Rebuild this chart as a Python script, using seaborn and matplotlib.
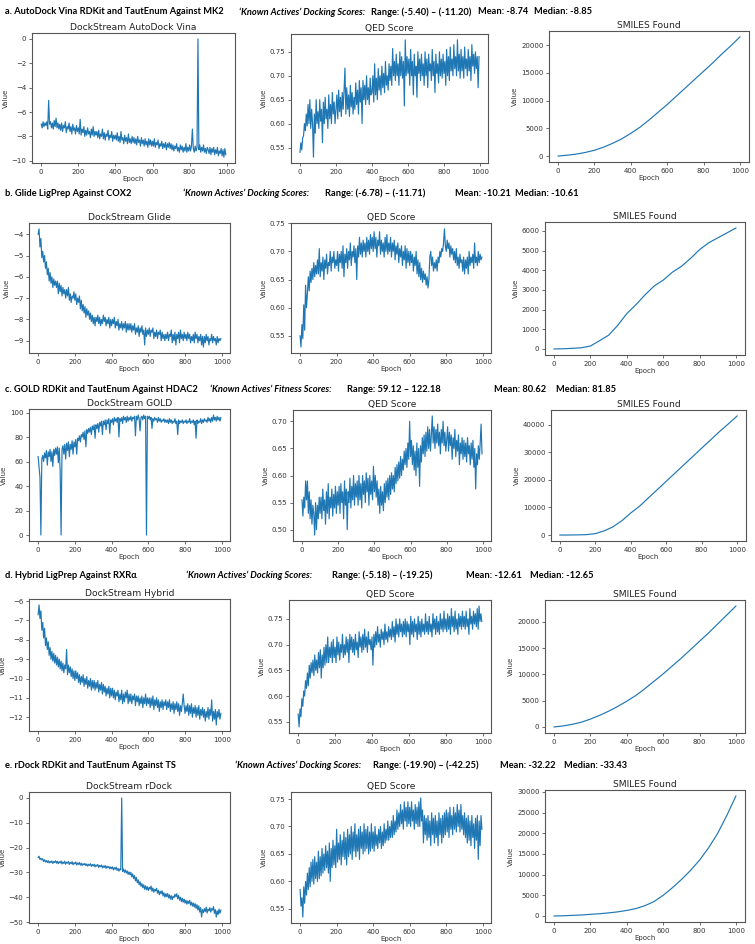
import numpy as np
import seaborn as sns
import matplotlib.pyplot as plt

# ---- header text for each row ----
row_titles = ["a. AutoDock Vina RDKit and TautEnum Against MK2",
              "b. Glide LigPrep Against COX2",
              "c. GOLD RDKit and TautEnum Against HDAC2",
              "d. Hybrid LigPrep Against RXRα",
              "e. rDock RDKit and TautEnum Against TS"]
score_kinds = ["Docking", "Docking", "Fitness", "Docking", "Docking"]
ranges = ["(-5.40) – (-11.20)", "(-6.78) – (-11.71)", "59.12 – 122.18",
          "(-5.18) – (-19.25)", "(-19.90) – (-42.25)"]
means = ["-8.74", "-10.21", "80.62", "-12.61", "-32.22"]
medians = ["-8.85", "-10.61", "81.85", "-12.65", "-33.43"]
dock_titles = ["DockStream AutoDock Vina", "DockStream Glide", "DockStream GOLD",
               "DockStream Hybrid", "DockStream rDock"]

# ---- docking score traces (every 5 epochs) ----
vina = [-7.0,-7.3,-6.8,-7.2,-6.9,-7.1,-6.8,-7.4,-5.05,-7.0,-6.8,-7.3,-6.9,-7.4,-6.7,-7.2,-6.5,-7.3,-6.9,-7.4,
        -7.0,-7.5,-6.9,-7.6,-7.1,-7.3,-6.8,-7.7,-7.2,-7.4,-6.9,-7.6,-7.2,-7.8,-7.0,-7.5,-7.3,-7.8,-7.1,-7.6,
        -7.3,-7.8,-6.6,-7.9,-7.4,-7.7,-7.2,-8.0,-7.5,-7.9,-7.3,-7.8,-7.6,-8.1,-7.4,-7.9,-7.2,-8.0,-7.6,-7.9,
        -7.6,-8.1,-7.5,-8.2,-7.8,-8.0,-7.4,-8.2,-7.7,-8.3,-7.8,-8.0,-7.5,-8.3,-7.9,-8.1,-7.6,-8.4,-7.9,-8.2,
        -7.9,-8.3,-7.7,-8.4,-8.0,-8.5,-7.6,-8.3,-8.1,-8.6,-7.9,-8.4,-8.1,-8.6,-7.8,-8.5,-8.2,-8.6,-8.0,-8.5,
        -8.1,-8.6,-8.2,-8.7,-8.0,-8.5,-8.3,-8.8,-8.1,-8.6,-8.3,-8.8,-8.2,-8.7,-8.4,-8.9,-8.2,-8.7,-8.3,-8.8,
        -8.4,-8.8,-8.2,-8.9,-8.5,-8.7,-8.3,-9.0,-8.6,-8.8,-8.4,-9.0,-8.6,-8.9,-8.5,-9.1,-8.6,-8.9,-8.5,-9.0,
        -8.6,-9.1,-8.7,-9.2,-8.8,-9.0,-8.6,-9.2,-8.9,-9.3,-8.7,-9.1,-8.8,-9.3,-8.9,-9.2,-8.6,-9.3,-8.9,-9.2,
        -8.7,-9.2,-8.8,-7.4,-9.0,-9.3,-8.8,-9.2,-8.9,0.0,-9.1,-8.7,-9.3,-8.9,-9.2,-8.7,-9.3,-9.0,-9.4,-8.9,
        -9.1,-9.4,-8.9,-9.5,-9.0,-9.3,-8.9,-9.5,-9.1,-9.4,-8.9,-9.6,-9.2,-9.4,-9.0,-9.6,-9.1,-9.7,-9.0,-9.5]

glide = [-4.0,-3.75,-4.6,-4.2,-5.1,-4.8,-5.3,-5.0,-5.6,-5.3,-5.9,-5.6,-6.2,-5.8,-6.3,-6.0,-6.5,-6.1,-6.4,-6.2,
         -6.5,-6.2,-6.8,-6.3,-6.7,-6.4,-6.9,-6.5,-6.8,-6.6,-7.0,-6.6,-6.9,-6.5,-7.1,-6.8,-7.2,-6.9,-7.0,-6.7,
         -7.1,-6.8,-7.3,-7.0,-7.2,-6.9,-7.5,-7.1,-7.6,-7.3,-7.7,-7.4,-7.9,-7.5,-7.8,-7.6,-8.0,-7.7,-8.1,-7.8,
         -8.2,-7.9,-8.3,-7.9,-8.1,-7.8,-8.2,-7.9,-8.3,-8.0,-8.2,-7.8,-8.1,-7.9,-8.3,-8.0,-8.2,-7.9,-8.4,-8.0,
         -8.3,-8.0,-8.2,-7.9,-8.4,-8.1,-8.3,-8.0,-8.5,-8.2,-8.4,-8.1,-8.5,-8.2,-8.4,-8.1,-8.6,-8.2,-8.5,-8.2,
         -8.5,-8.2,-8.6,-8.3,-8.5,-8.2,-8.7,-8.4,-8.6,-8.3,-8.8,-8.4,-8.6,-8.3,-8.7,-8.5,-9.2,-8.4,-8.8,-8.5,
         -8.7,-8.4,-8.8,-8.5,-8.6,-8.4,-8.9,-8.6,-8.8,-8.5,-8.9,-8.6,-8.7,-8.5,-9.0,-8.6,-8.9,-8.7,-9.0,-8.7,
         -8.9,-8.6,-9.0,-8.7,-8.8,-8.5,-9.1,-8.7,-9.0,-8.6,-9.2,-8.7,-8.9,-8.6,-9.1,-8.5,-8.9,-8.7,-9.0,-8.6,
         -8.9,-8.7,-9.0,-8.6,-8.9,-8.7,-9.1,-8.8,-9.0,-8.7,-9.1,-8.6,-8.9,-8.7,-9.1,-8.8,-9.0,-8.7,-9.2,-8.8,
         -9.3,-8.8,-9.1,-8.7,-9.0,-8.8,-9.2,-8.9,-9.0,-8.7,-9.1,-8.8,-9.0,-8.9,-9.2,-8.8,-9.1,-8.9,-9.0,-8.9]

gold = [64,55,47,0,62,65,60,67,63,69,57,68,64,70,60,68,56,70,65,71,
        66,72,59,71,52,0,70,73,66,74,62,75,69,76,64,74,70,77,66,76,
        72,78,66,79,77,81,76,82,80,84,78,85,72,86,83,87,84,88,82,89,
        86,90,79,90,87,91,84,92,89,93,82,93,90,94,86,94,91,95,83,94,
        92,95,90,96,93,95,92,96,80,95,93,96,91,97,94,96,92,97,93,96,
        94,97,93,96,95,97,81,97,94,98,95,85,96,97,94,98,95,97,0,97,
        95,97,94,96,87,95,93,96,94,95,92,96,93,95,92,94,93,95,92,94,
        92,94,91,95,92,94,91,93,92,95,91,93,82,94,91,93,92,94,91,93,
        92,94,91,93,92,95,91,93,92,94,90,93,79,94,91,93,92,95,91,94,
        92,95,93,94,92,96,93,95,92,96,93,98,94,96,93,97,94,96,93,96]

hybrid = [-6.7,-6.2,-6.9,-6.5,-7.5,-7.1,-7.9,-7.4,-8.3,-7.9,-8.5,-8.1,-8.8,-8.4,-9.0,-8.6,-9.1,-8.7,-9.2,-8.8,
          -9.3,-8.9,-9.4,-9.0,-9.5,-9.1,-9.6,-9.2,-9.7,-9.3,-9.5,-8.5,-9.8,-9.3,-9.7,-9.4,-9.9,-9.5,-10.0,-9.6,
          -10.1,-9.6,-10.0,-9.7,-10.2,-9.8,-10.3,-9.9,-10.2,-9.8,-10.4,-10.0,-10.3,-9.9,-10.5,-10.1,-10.4,-10.0,-10.6,-10.1,
          -10.5,-10.1,-10.6,-10.2,-10.5,-10.1,-10.7,-10.3,-10.6,-10.2,-10.8,-10.3,-10.7,-10.4,-10.9,-10.5,-10.8,-10.4,-11.0,-10.5,
          -10.9,-10.5,-11.0,-10.6,-11.1,-10.7,-10.9,-10.6,-11.2,-10.8,-11.1,-10.6,-11.3,-10.8,-11.2,-10.7,-11.0,-10.6,-11.3,-10.8,
          -11.2,-10.8,-11.3,-10.9,-11.1,-10.8,-11.4,-10.9,-11.2,-10.9,-11.4,-11.0,-11.3,-10.9,-11.5,-11.0,-11.3,-10.8,-11.4,-11.0,
          -11.3,-11.0,-11.5,-11.0,-11.4,-10.9,-11.6,-11.1,-11.4,-11.0,-11.5,-11.1,-11.7,-11.2,-11.5,-11.1,-11.6,-11.2,-11.4,-11.1,
          -11.6,-11.2,-11.5,-11.1,-11.7,-11.3,-11.6,-11.2,-11.8,-11.3,-11.6,-11.2,-11.7,-11.3,-11.9,-11.4,-11.7,-11.3,-10.8,-11.4,
          -11.8,-11.4,-11.7,-11.3,-11.9,-11.4,-11.8,-11.3,-12.0,-11.5,-11.8,-11.4,-12.0,-11.5,-11.9,-11.4,-12.1,-11.6,-11.9,-11.5,
          -12.0,-11.6,-12.2,-11.7,-12.0,-11.5,-12.1,-11.6,-11.9,-11.1,-12.2,-11.7,-12.1,-11.6,-12.4,-11.7,-12.0,-11.6,-12.1,-11.8]

rdock = [-24.0,-23.5,-24.8,-24.3,-25.0,-24.5,-25.6,-24.9,-25.8,-25.2,-26.0,-25.3,-26.2,-25.5,-26.1,-25.4,-26.4,-25.6,-26.0,-25.3,
         -26.3,-25.5,-26.5,-25.7,-26.2,-25.4,-26.6,-25.8,-26.4,-25.5,-26.7,-25.9,-26.3,-25.6,-26.8,-26.0,-26.5,-25.7,-26.9,-26.1,
         -26.6,-25.8,-27.0,-26.2,-26.8,-26.0,-27.1,-26.3,-27.2,-26.5,-27.0,-26.4,-27.3,-26.6,-27.5,-26.7,-27.2,-26.5,-27.6,-26.8,
         -27.4,-26.7,-27.8,-27.0,-27.5,-26.8,-28.0,-27.2,-27.7,-27.0,-28.2,-27.4,-28.0,-27.2,-28.4,-27.5,-28.1,-27.6,-28.6,-27.8,
         -28.5,-27.8,-29.0,-28.1,-28.7,-27.9,-29.2,-28.4,-29.5,-28.6,-29.0,0.0,-29.6,-28.7,-30.0,-29.0,-30.3,-29.4,-30.8,-29.8,
         -31.0,-30.0,-31.8,-30.6,-32.5,-31.3,-33.4,-32.0,-34.2,-33.0,-35.0,-33.8,-35.6,-34.5,-36.2,-35.0,-36.8,-35.4,-37.0,-35.8,
         -37.3,-36.0,-36.8,-35.5,-37.6,-36.3,-38.0,-36.8,-37.5,-36.4,-38.4,-37.2,-39.0,-37.6,-38.6,-37.4,-39.5,-38.2,-40.0,-38.6,
         -39.8,-38.5,-40.3,-39.0,-40.8,-39.4,-41.0,-39.6,-40.2,-38.8,-39.8,-38.6,-40.6,-39.3,-41.2,-40.0,-41.8,-40.4,-42.0,-40.8,
         -42.4,-41.2,-42.8,-41.5,-42.5,-41.3,-43.2,-42.0,-43.6,-42.3,-44.0,-42.6,-44.5,-43.0,-45.2,-43.5,-46.0,-44.2,-48.0,-45.0,
         -46.2,-44.6,-45.8,-44.0,-46.4,-44.8,-45.5,-44.2,-46.0,-44.6,-45.2,-43.8,-46.5,-45.0,-48.0,-45.5,-47.0,-44.8,-46.5,-45.2]

# ---- QED traces (every 5 epochs) ----
qed_a = [0.54,0.56,0.545,0.57,0.575,0.60,0.585,0.62,0.595,0.64,0.60,0.65,0.59,0.63,0.60,0.53,0.62,0.58,0.65,0.60,
         0.625,0.59,0.65,0.605,0.63,0.56,0.645,0.60,0.655,0.61,0.63,0.59,0.66,0.61,0.64,0.60,0.665,0.62,0.645,0.60,
         0.63,0.66,0.61,0.67,0.625,0.655,0.615,0.665,0.63,0.67,0.716,0.62,0.675,0.63,0.66,0.615,0.68,0.635,0.665,0.62,
         0.655,0.63,0.685,0.64,0.67,0.62,0.69,0.645,0.675,0.60,0.69,0.65,0.68,0.64,0.70,0.65,0.675,0.64,0.695,0.66,
         0.665,0.70,0.645,0.725,0.66,0.695,0.65,0.715,0.67,0.70,0.66,0.72,0.675,0.705,0.665,0.73,0.68,0.70,0.67,0.725,
         0.69,0.72,0.68,0.757,0.70,0.73,0.69,0.745,0.70,0.725,0.68,0.75,0.70,0.74,0.695,0.73,0.637,0.775,0.70,0.74,
         0.705,0.735,0.68,0.755,0.70,0.73,0.66,0.745,0.70,0.72,0.655,0.75,0.705,0.735,0.69,0.745,0.70,0.725,0.68,0.75,
         0.70,0.735,0.675,0.745,0.71,0.725,0.69,0.755,0.70,0.73,0.665,0.745,0.705,0.725,0.685,0.75,0.70,0.735,0.695,0.745,
         0.705,0.73,0.68,0.755,0.70,0.74,0.69,0.76,0.71,0.735,0.70,0.765,0.715,0.74,0.70,0.775,0.71,0.745,0.695,0.755,
         0.71,0.74,0.695,0.76,0.715,0.735,0.70,0.755,0.71,0.74,0.69,0.765,0.72,0.745,0.705,0.75,0.715,0.74,0.675,0.74]

qed_b = [0.55,0.53,0.57,0.545,0.605,0.56,0.64,0.60,0.625,0.655,0.63,0.665,0.645,0.67,0.65,0.68,0.655,0.675,0.66,0.685,
         0.66,0.705,0.655,0.68,0.665,0.69,0.65,0.685,0.67,0.695,0.66,0.68,0.675,0.70,0.665,0.69,0.68,0.70,0.67,0.685,
         0.675,0.70,0.665,0.695,0.68,0.70,0.67,0.71,0.655,0.695,0.68,0.705,0.67,0.70,0.685,0.715,0.675,0.70,0.69,0.71,
         0.68,0.705,0.65,0.71,0.69,0.725,0.695,0.715,0.69,0.72,0.70,0.715,0.69,0.725,0.70,0.72,0.695,0.73,0.705,0.725,
         0.70,0.735,0.705,0.725,0.69,0.72,0.71,0.735,0.695,0.72,0.70,0.715,0.69,0.725,0.70,0.73,0.695,0.715,0.70,0.725,
         0.69,0.715,0.70,0.72,0.685,0.71,0.695,0.715,0.68,0.705,0.69,0.71,0.675,0.70,0.685,0.71,0.67,0.705,0.68,0.70,
         0.675,0.70,0.68,0.695,0.665,0.69,0.675,0.70,0.66,0.685,0.655,0.68,0.65,0.67,0.645,0.665,0.65,0.66,0.64,0.655,
         0.635,0.65,0.69,0.70,0.675,0.69,0.665,0.68,0.67,0.685,0.665,0.69,0.68,0.70,0.69,0.705,0.70,0.715,0.74,0.71,
         0.70,0.72,0.705,0.715,0.69,0.71,0.695,0.705,0.685,0.70,0.68,0.705,0.675,0.69,0.67,0.695,0.68,0.685,0.665,0.69,
         0.66,0.685,0.67,0.69,0.66,0.70,0.675,0.69,0.68,0.695,0.67,0.715,0.68,0.69,0.675,0.70,0.68,0.695,0.685,0.69]

qed_c = [0.555,0.525,0.56,0.54,0.59,0.555,0.59,0.53,0.57,0.52,0.555,0.51,0.545,0.53,0.49,0.55,0.50,0.545,0.52,0.56,
         0.53,0.56,0.52,0.575,0.535,0.555,0.51,0.57,0.53,0.585,0.52,0.56,0.54,0.575,0.525,0.565,0.54,0.58,0.53,0.57,
         0.545,0.58,0.53,0.585,0.55,0.57,0.52,0.59,0.545,0.575,0.50,0.57,0.55,0.595,0.54,0.58,0.555,0.60,0.545,0.585,
         0.56,0.59,0.545,0.60,0.555,0.585,0.54,0.60,0.565,0.59,0.55,0.605,0.57,0.595,0.545,0.60,0.565,0.59,0.555,0.617,
         0.57,0.60,0.56,0.59,0.545,0.575,0.53,0.58,0.545,0.57,0.535,0.585,0.55,0.59,0.56,0.595,0.555,0.60,0.565,0.605,
         0.575,0.60,0.57,0.615,0.585,0.62,0.59,0.625,0.595,0.635,0.60,0.63,0.61,0.645,0.62,0.65,0.615,0.66,0.63,0.70,
         0.635,0.665,0.62,0.655,0.61,0.645,0.60,0.66,0.615,0.65,0.58,0.655,0.625,0.67,0.64,0.675,0.635,0.68,0.645,0.69,
         0.65,0.685,0.645,0.675,0.71,0.66,0.69,0.65,0.685,0.66,0.695,0.655,0.68,0.64,0.685,0.66,0.70,0.655,0.68,0.645,
         0.665,0.69,0.645,0.68,0.655,0.675,0.63,0.67,0.65,0.685,0.635,0.665,0.645,0.675,0.62,0.66,0.64,0.67,0.63,0.665,
         0.635,0.66,0.625,0.67,0.64,0.655,0.62,0.66,0.63,0.665,0.615,0.65,0.575,0.64,0.62,0.655,0.63,0.66,0.695,0.64]

qed_d = [0.565,0.54,0.575,0.56,0.595,0.58,0.61,0.60,0.63,0.615,0.645,0.62,0.66,0.635,0.665,0.645,0.67,0.64,0.68,0.65,
         0.67,0.645,0.685,0.655,0.69,0.635,0.68,0.655,0.695,0.66,0.70,0.665,0.715,0.665,0.695,0.675,0.705,0.665,0.71,0.675,
         0.695,0.665,0.715,0.68,0.705,0.67,0.70,0.685,0.72,0.675,0.70,0.68,0.715,0.685,0.71,0.665,0.72,0.69,0.715,0.685,
         0.71,0.68,0.72,0.69,0.705,0.675,0.725,0.695,0.715,0.685,0.72,0.69,0.73,0.695,0.715,0.685,0.725,0.70,0.71,0.69,
         0.715,0.66,0.72,0.695,0.725,0.70,0.735,0.705,0.72,0.695,0.73,0.71,0.725,0.70,0.74,0.71,0.725,0.705,0.735,0.715,
         0.73,0.71,0.745,0.715,0.735,0.705,0.75,0.72,0.74,0.715,0.75,0.725,0.74,0.715,0.745,0.72,0.75,0.715,0.745,0.725,
         0.74,0.70,0.755,0.72,0.745,0.715,0.75,0.725,0.74,0.71,0.755,0.72,0.745,0.715,0.75,0.725,0.74,0.72,0.76,0.725,
         0.745,0.72,0.755,0.725,0.74,0.715,0.76,0.73,0.75,0.72,0.755,0.725,0.745,0.72,0.76,0.73,0.75,0.725,0.765,0.73,
         0.75,0.725,0.76,0.73,0.755,0.72,0.77,0.735,0.755,0.725,0.765,0.73,0.75,0.72,0.76,0.735,0.755,0.73,0.765,0.735,
         0.755,0.73,0.765,0.735,0.75,0.72,0.77,0.74,0.755,0.73,0.765,0.74,0.76,0.735,0.77,0.73,0.775,0.745,0.76,0.745]

qed_e = [0.585,0.555,0.57,0.535,0.59,0.56,0.60,0.575,0.615,0.585,0.625,0.59,0.635,0.60,0.64,0.595,0.645,0.605,0.635,0.60,
         0.655,0.605,0.645,0.61,0.66,0.615,0.65,0.62,0.665,0.625,0.655,0.615,0.67,0.60,0.66,0.625,0.675,0.63,0.665,0.625,
         0.695,0.635,0.67,0.64,0.685,0.63,0.675,0.645,0.69,0.64,0.68,0.63,0.695,0.645,0.685,0.65,0.70,0.64,0.69,0.655,
         0.705,0.645,0.685,0.655,0.695,0.64,0.70,0.66,0.69,0.65,0.705,0.655,0.695,0.66,0.70,0.65,0.69,0.655,0.705,0.66,
         0.69,0.655,0.70,0.665,0.685,0.66,0.695,0.67,0.70,0.66,0.69,0.665,0.705,0.67,0.695,0.675,0.71,0.675,0.70,0.68,
         0.71,0.68,0.72,0.685,0.71,0.69,0.73,0.695,0.725,0.70,0.74,0.705,0.73,0.695,0.745,0.71,0.735,0.70,0.745,0.705,
         0.735,0.70,0.745,0.71,0.73,0.695,0.74,0.705,0.735,0.70,0.745,0.70,0.752,0.71,0.73,0.67,0.72,0.685,0.715,0.675,
         0.72,0.68,0.71,0.665,0.725,0.685,0.715,0.67,0.72,0.68,0.71,0.665,0.725,0.685,0.715,0.67,0.72,0.68,0.725,0.685,
         0.73,0.69,0.725,0.68,0.735,0.695,0.72,0.685,0.735,0.695,0.725,0.69,0.74,0.70,0.73,0.69,0.74,0.695,0.72,0.685,
         0.725,0.68,0.715,0.67,0.72,0.675,0.71,0.665,0.72,0.68,0.705,0.66,0.715,0.675,0.72,0.64,0.71,0.665,0.72,0.695]

# ---- cumulative SMILES found (every 50 epochs) ----
smiles_a = [0,150,350,650,1050,1600,2300,3100,4100,5200,6500,7900,9300,10800,12300,13800,15300,16800,18400,19900,21500]
smiles_b = [0,10,30,60,150,420,700,1200,1800,2250,2750,3200,3500,3900,4200,4600,5050,5400,5650,5900,6150]
smiles_c = [0,20,60,150,500,1500,3000,5200,8000,10500,13500,16500,19500,22500,25500,28500,31500,34500,37500,40300,43200]
smiles_d = [0,200,500,900,1500,2200,3000,3900,4900,6000,7300,8700,10100,11600,13100,14700,16300,17900,19600,21300,23000]
smiles_e = [0,50,150,250,400,550,750,1000,1350,1800,2500,3500,5000,6800,8800,11000,13500,16500,20000,24300,29000]

dock_series = [vina, glide, gold, hybrid, rdock]
qed_series = [qed_a, qed_b, qed_c, qed_d, qed_e]
smiles_series = [smiles_a, smiles_b, smiles_c, smiles_d, smiles_e]

# ---- layout (pixels: left, top, right, bottom) ----
W, H = 755, 944
boxes = [
    [(32, 33, 235, 163), (291, 34, 488, 163), (549, 31, 749, 162)],
    [(29, 223, 230, 353), (291, 223, 491, 353), (545, 222, 745, 355)],
    [(29, 409, 230, 541), (293, 410, 491, 541), (551, 410, 746, 541)],
    [(29, 599, 230, 731), (289, 600, 491, 733), (545, 600, 745, 733)],
    [(29, 792, 230, 923), (291, 792, 491, 923), (545, 790, 745, 922)],
]
header_y = [12, 193, 389, 575, 765]
# x of: title, 'Known Actives', Range, Mean, Median
header_x = [
    [5, 239, 371, 478, 534],
    [5, 183, 325, 455, 515],
    [5, 210, 347, 494, 556],
    [5, 186, 332, 466, 530],
    [5, 235, 373, 500, 564],
]

fig = plt.figure(figsize=(W / 100, H / 100), dpi=100)


def px_box(l, t, r, b):
    return [l / W, 1 - b / H, (r - l) / W, (b - t) / H]


def panel(box, vals, step, title):
    ax = fig.add_axes(px_box(*box))
    epochs = np.arange(len(vals)) * step
    sns.lineplot(x=epochs, y=vals, ax=ax, color="#1f77b4", linewidth=0.85)
    ax.set_title(title, fontsize=6.6, pad=2.5, color="#222222")
    ax.set_xlabel("Epoch", fontsize=5, labelpad=1, color="#333333")
    ax.set_ylabel("Value", fontsize=5, labelpad=2, color="#333333")
    ax.set_xticks([0, 200, 400, 600, 800, 1000])
    ax.tick_params(labelsize=5, length=2.5, width=0.5, pad=1.5, colors="#333333")
    for s in ax.spines.values():
        s.set_linewidth(0.8)
        s.set_color("#555555")
    return ax


hfont = ["Lato", "DejaVu Sans"]
hsize = 6.7
for i in range(5):
    yy = 1 - header_y[i] / H
    xs = [x / W for x in header_x[i]]
    fig.text(xs[0], yy, row_titles[i], fontsize=hsize, fontweight="bold",
             family=hfont, va="center")
    fig.text(xs[1], yy, f"‘Known Actives’ {score_kinds[i]} Scores:", fontsize=hsize,
             fontweight="bold", style="italic", family=hfont, va="center")
    fig.text(xs[2], yy, f"Range: {ranges[i]}", fontsize=hsize, fontweight="bold",
             family=hfont, va="center")
    fig.text(xs[3], yy, f"Mean: {means[i]}", fontsize=hsize, fontweight="bold",
             family=hfont, va="center")
    fig.text(xs[4], yy, f"Median: {medians[i]}", fontsize=hsize, fontweight="bold",
             family=hfont, va="center")

    panel(boxes[i][0], dock_series[i], 5, dock_titles[i])
    panel(boxes[i][1], qed_series[i], 5, "QED Score")
    panel(boxes[i][2], smiles_series[i], 50, "SMILES Found")

fig.savefig("out.png", dpi=100)
